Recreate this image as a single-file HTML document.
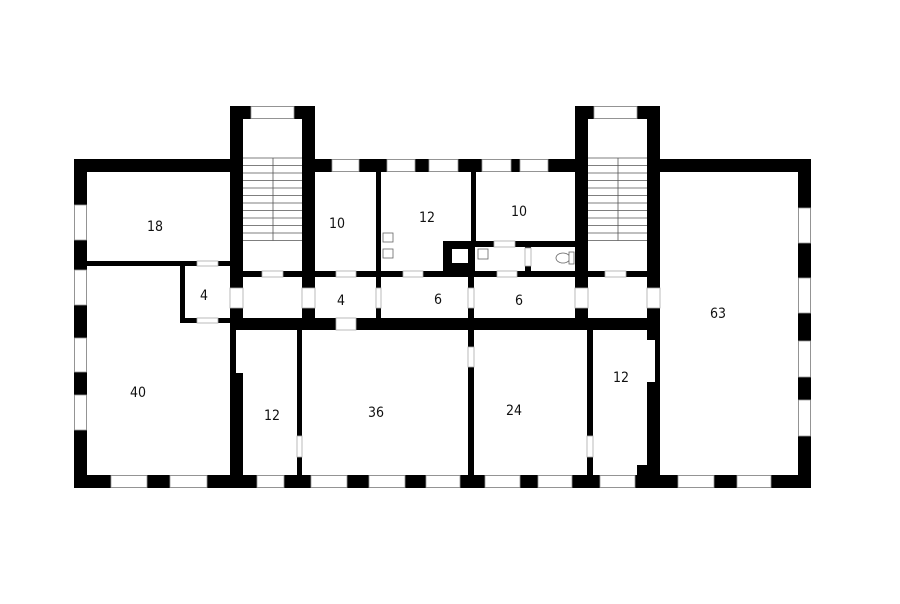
<!DOCTYPE html>
<html><head><meta charset="utf-8"><style>
html,body{margin:0;padding:0;background:#fff;width:900px;height:604px;overflow:hidden}
svg{display:block}
text{font-family:"DejaVu Sans Condensed","Liberation Sans",sans-serif;font-size:14px;fill:#111;text-anchor:middle}
</style></head><body>
<svg width="900" height="604" viewBox="0 0 900 604" xmlns="http://www.w3.org/2000/svg">
<g fill="#000">
<!-- outer walls -->
<rect x="74" y="159" width="169" height="13"/>
<rect x="74" y="159" width="13" height="329"/>
<rect x="74" y="475" width="737" height="13"/>
<rect x="798" y="159" width="13" height="329"/>
<rect x="647" y="159" width="164" height="13"/>
<rect x="302" y="159" width="286" height="13"/>
<!-- towers -->
<rect x="230" y="106" width="13" height="224"/>
<rect x="302" y="106" width="13" height="224"/>
<rect x="230" y="106" width="85" height="13"/>
<rect x="575" y="106" width="13" height="224"/>
<rect x="647" y="106" width="13" height="369"/>
<rect x="575" y="106" width="85" height="13"/>
<!-- left interior -->
<rect x="87" y="261" width="143" height="5"/>
<rect x="180" y="261" width="5" height="62"/>
<rect x="180" y="318" width="50" height="5"/>
<!-- corridor -->
<rect x="243" y="271" width="404" height="6"/>
<rect x="230" y="318" width="417" height="12"/>
<!-- upper middle partitions -->
<rect x="376" y="172" width="5" height="146"/>
<rect x="471" y="172" width="5" height="70"/>
<rect x="468" y="271" width="6" height="47"/>
<rect x="443" y="241" width="32" height="33"/>
<rect x="468" y="241" width="107" height="6"/>
<rect x="525" y="241" width="6" height="32"/>
<!-- lower partitions -->
<rect x="230" y="330" width="6" height="145"/>
<rect x="230" y="373" width="13" height="102"/>
<rect x="297" y="330" width="5" height="145"/>
<rect x="468" y="330" width="6" height="145"/>
<rect x="587" y="330" width="6" height="145"/>
<rect x="637" y="465" width="12" height="10"/>
</g>
<!-- cut-outs / wall notches -->
<g fill="#fff">
<rect x="652" y="340" width="-1" height="0"/>
<rect x="647" y="340" width="8" height="42"/>
<rect x="452" y="249" width="16" height="14"/>
</g>
<!-- windows -->
<g fill="#fff" stroke="#999" stroke-width="0.8">
<rect x="251" y="106.5" width="43" height="12"/>
<rect x="594" y="106.5" width="43" height="12"/>
<rect x="332" y="159.5" width="27" height="12"/>
<rect x="387" y="159.5" width="28" height="12"/>
<rect x="429" y="159.5" width="29" height="12"/>
<rect x="482" y="159.5" width="29" height="12"/>
<rect x="520" y="159.5" width="28" height="12"/>
<rect x="74.5" y="205" width="12" height="35"/>
<rect x="74.5" y="270" width="12" height="35"/>
<rect x="74.5" y="338" width="12" height="34"/>
<rect x="74.5" y="395" width="12" height="35"/>
<rect x="798.5" y="208" width="12" height="35"/>
<rect x="798.5" y="278" width="12" height="35"/>
<rect x="798.5" y="341" width="12" height="36"/>
<rect x="798.5" y="400" width="12" height="36"/>
<rect x="111" y="475.5" width="36" height="12"/>
<rect x="170" y="475.5" width="37" height="12"/>
<rect x="257" y="475.5" width="27" height="12"/>
<rect x="311" y="475.5" width="36" height="12"/>
<rect x="369" y="475.5" width="36" height="12"/>
<rect x="426" y="475.5" width="34" height="12"/>
<rect x="485" y="475.5" width="35" height="12"/>
<rect x="538" y="475.5" width="34" height="12"/>
<rect x="600" y="475.5" width="35" height="12"/>
<rect x="678" y="475.5" width="36" height="12"/>
<rect x="737" y="475.5" width="34" height="12"/>
</g>
<!-- doors -->
<g fill="#fff" stroke="#aaa" stroke-width="0.8">
<rect x="197" y="261" width="21" height="5"/>
<rect x="197" y="318" width="21" height="5"/>
<rect x="262" y="271" width="21" height="6"/>
<rect x="336" y="271" width="20" height="6"/>
<rect x="403" y="271" width="20" height="6"/>
<rect x="497" y="271" width="20" height="6"/>
<rect x="605" y="271" width="21" height="6"/>
<rect x="494" y="241" width="21" height="6"/>
<rect x="525" y="248" width="6" height="18"/>
<rect x="336" y="318" width="20" height="12"/>
<rect x="230" y="288" width="13" height="20"/>
<rect x="302" y="288" width="13" height="20"/>
<rect x="376" y="288" width="5" height="20"/>
<rect x="468" y="288" width="6" height="20"/>
<rect x="575" y="288" width="13" height="20"/>
<rect x="647" y="288" width="13" height="20"/>
<rect x="297" y="436" width="5" height="21"/>
<rect x="468" y="347" width="6" height="20"/>
<rect x="587" y="436" width="6" height="21"/>
</g>
<!-- stairs -->
<g stroke="#555" stroke-width="0.8">
<line x1="243" y1="158" x2="302" y2="158"/><line x1="243" y1="165.5" x2="302" y2="165.5"/><line x1="243" y1="173" x2="302" y2="173"/><line x1="243" y1="180.5" x2="302" y2="180.5"/><line x1="243" y1="188" x2="302" y2="188"/><line x1="243" y1="195.5" x2="302" y2="195.5"/><line x1="243" y1="203" x2="302" y2="203"/><line x1="243" y1="210.5" x2="302" y2="210.5"/><line x1="243" y1="218" x2="302" y2="218"/><line x1="243" y1="225.5" x2="302" y2="225.5"/><line x1="243" y1="233" x2="302" y2="233"/><line x1="243" y1="240.5" x2="302" y2="240.5"/>
<line x1="273" y1="158" x2="273" y2="240.5"/>
<line x1="588" y1="158" x2="647" y2="158"/><line x1="588" y1="165.5" x2="647" y2="165.5"/><line x1="588" y1="173" x2="647" y2="173"/><line x1="588" y1="180.5" x2="647" y2="180.5"/><line x1="588" y1="188" x2="647" y2="188"/><line x1="588" y1="195.5" x2="647" y2="195.5"/><line x1="588" y1="203" x2="647" y2="203"/><line x1="588" y1="210.5" x2="647" y2="210.5"/><line x1="588" y1="218" x2="647" y2="218"/><line x1="588" y1="225.5" x2="647" y2="225.5"/><line x1="588" y1="233" x2="647" y2="233"/><line x1="588" y1="240.5" x2="647" y2="240.5"/>
<line x1="618" y1="158" x2="618" y2="240.5"/>
</g>
<!-- fixtures -->
<g fill="#fff" stroke="#666" stroke-width="0.8">
<rect x="383" y="233" width="10" height="9"/>
<rect x="383" y="249" width="10" height="9"/>
<rect x="478" y="249" width="10" height="10"/>
<ellipse cx="563" cy="258" rx="7" ry="5"/>
<rect x="569" y="252" width="5" height="12"/>
</g>
<text x="155" y="231">18</text>
<text x="337" y="228">10</text>
<text x="427" y="222">12</text>
<text x="519" y="216">10</text>
<text x="204" y="300">4</text>
<text x="341" y="305">4</text>
<text x="438" y="304">6</text>
<text x="519" y="305">6</text>
<text x="718" y="318">63</text>
<text x="138" y="397">40</text>
<text x="272" y="420">12</text>
<text x="376" y="417">36</text>
<text x="514" y="415">24</text>
<text x="621" y="382">12</text>
</svg>
</body></html>
